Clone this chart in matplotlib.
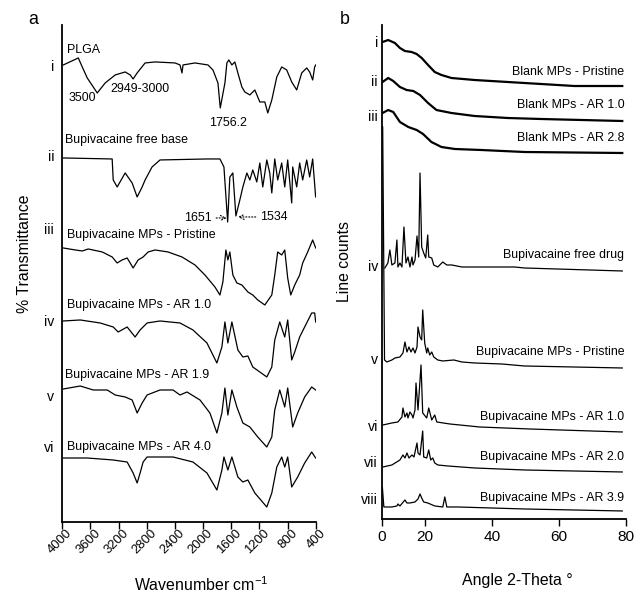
import numpy as np
import matplotlib
matplotlib.use("Agg")
import matplotlib.pyplot as plt
from matplotlib import font_manager
from matplotlib.transforms import ScaledTranslation

# ---------------- data: FTIR (panel a) ----------------
# wavenumber (cm-1) and transmittance change (a.u.) relative to each trace's baseline
plga_wn = [3986, 3773, 3717, 3646, 3504, 3391, 3249, 3107, 3036, 2994, 2937, 2824, 2682, 2399, 2328, 2300,
           2285, 2115, 1931, 1860, 1789, 1756, 1690, 1662, 1634, 1591, 1549, 1506, 1449, 1407, 1336, 1265,
           1194, 1123, 1081, 1024, 953, 883, 812, 741, 670, 599, 528, 486, 443, 415, 400]
plga_t = [0, 7, -2, -13, -28, -18, -10, -7, -10, -14, -8, 2, 3, 2, 0, -8,
          0, 2, 0, -5, -18, -43, -18, 2, 5, 0, 3, -8, -22, -27, -30, -25,
          -37, -37, -48, -35, -12, -2, -5, -17, -25, -8, -3, -7, -15, -2, 0]

base_wn = [3986, 3292, 3277, 3221, 3107, 3008, 2937, 2866, 2824, 2725, 2612, 1945, 1761, 1704, 1651,
           1620, 1577, 1534, 1478, 1435, 1378, 1336, 1294, 1237, 1194, 1152, 1095, 1053, 1024, 982,
           940, 883, 840, 798, 741, 727, 670, 628, 585, 528, 486, 443, 401]
base_t = [0, -1, -22, -29, -15, -25, -39, -29, -22, -9, -2, -1, -1, -9, -64,
          -19, -15, -58, -42, -29, -15, -22, -12, -24, -5, -29, -2, -15, -35, -1,
          -22, -5, -29, -2, -45, -9, -29, -5, -22, -2, -19, -1, -39]

prist_wn = [3986, 3816, 3717, 3632, 3433, 3292, 3221, 3151, 3079, 2994, 2923, 2852, 2781, 2682, 2498,
            2300, 2115, 1974, 1832, 1761, 1719, 1676, 1648, 1620, 1577, 1520, 1449, 1364, 1294, 1223,
            1123, 1024, 982, 940, 883, 840, 798, 755, 698, 628, 585, 514, 443, 400]
prist_t = [0, -2, -3, -1, -4, -9, -15, -12, -10, -20, -12, -9, -4, -2, -4,
           -9, -17, -27, -39, -47, -34, -2, -12, -4, -27, -35, -37, -44, -47, -52,
           -57, -47, -27, -4, -7, -2, -30, -47, -37, -27, -15, -4, 8, 0]

ar10_wn = [3986, 3745, 3462, 3277, 3207, 3079, 2966, 2895, 2796, 2612, 2328, 2144, 1945, 1804, 1733,
           1690, 1648, 1591, 1506, 1435, 1364, 1294, 1194, 1095, 1024, 982, 911, 840, 798, 741,
           698, 628, 557, 457, 415, 400]
ar10_t = [0, 1, -2, -6, -11, -6, -16, -9, -2, 0, -2, -9, -22, -42, -26,
          -1, -22, -1, -29, -36, -35, -46, -51, -56, -46, -19, -1, -16, 1, -39,
          -31, -16, -6, 8, 8, -1]

ar19_wn = [3986, 3745, 3561, 3362, 3249, 3107, 3008, 2937, 2866, 2796, 2612, 2427, 2328, 2229, 2044,
           1903, 1804, 1733, 1690, 1648, 1591, 1520, 1435, 1336, 1223, 1095, 1024, 982, 911, 840,
           798, 727, 656, 557, 457, 401]
ar19_t = [-1, 2, -2, -2, -7, -9, -12, -25, -15, -7, -2, -2, -7, -4, -12,
          -25, -45, -25, 0, -27, -2, -19, -35, -39, -49, -59, -49, -22, -2, -19,
          0, -39, -25, -9, 1, -2]

ar40_wn = [3986, 3646, 3277, 3079, 2994, 2937, 2895, 2852, 2796, 2427, 2144, 1945, 1804, 1733, 1704,
           1648, 1591, 1506, 1435, 1364, 1265, 1095, 1024, 953, 883, 840, 798, 741, 656, 557, 457, 401]
ar40_t = [0, 0, -2, -4, -15, -25, -15, -4, 1, 1, -4, -15, -32, -12, 1,
          -12, 1, -19, -24, -22, -35, -49, -35, -9, 1, -9, 1, -29, -19, -5, 6, 0]

ftir_offsets = [457, 364, 274, 201, 134, 64]
ftir_names = ["PLGA", "Bupivacaine free base", "Bupivacaine MPs - Pristine",
              "Bupivacaine MPs - AR 1.0", "Bupivacaine MPs - AR 1.9", "Bupivacaine MPs - AR 4.0"]
ftir_roman = ["i", "ii", "iii", "iv", "v", "vi"]

# ---------------- data: XRD (panel b) ----------------
bl_prist_2t = [7.3, 9.0, 11.0, 12.5, 14.0, 16.0, 17.5, 19.0, 20.9, 22.9, 24.9, 27.9, 34.8, 44.7, 54.7, 64.6, 78.9]
bl_prist_c = [44, 46, 43, 38, 35, 34, 32, 28, 21, 14, 11, 8, 6, 4, 2, 0, 0]
bl_ar10_2t = [7.3, 9.0, 10.5, 12.5, 14.5, 16.5, 18.5, 20.9, 23.4, 27.9, 34.8, 44.7, 54.7, 78.9]
bl_ar10_c = [39, 43, 40, 34, 31, 30, 26, 18, 11, 8, 5, 3, 2, 0]
bl_ar28_2t = [7.3, 9.0, 10.5, 12.5, 15.0, 17.5, 19.4, 21.9, 24.9, 28.9, 36.8, 49.7, 78.9]
bl_ar28_c = [40, 43, 41, 31, 26, 23, 19, 11, 6, 4, 3, 1, 0]

drug_2t = [8.0, 8.9, 9.5, 10.1, 11.0, 11.6, 11.9, 12.5, 13.1, 13.7, 14.3, 14.9, 15.5, 16.1, 16.4,
           17.0, 17.6, 18.1, 18.5, 19.0, 19.6, 20.2, 20.8, 21.1, 22.0, 22.6, 23.8, 25.3, 26.5, 28.0,
           31.0, 37.8, 46.7, 49.7, 78.9]
drug_c = [3, 8, 21, 6, 8, 31, 4, 8, 4, 44, 8, 14, 4, 14, 6,
          11, 35, 14, 98, 24, 18, 13, 36, 14, 13, 6, 4, 9, 6, 6,
          4, 4, 4, 3, 0]

mp_prist_2t = [7.35, 7.9, 8.6, 10.1, 11.0, 12.5, 13.4, 14.0, 14.6, 15.2, 15.8, 16.4, 17.0, 17.6, 17.9,
               18.5, 19.0, 19.3, 19.9, 20.5, 20.8, 21.4, 22.0, 22.6, 23.8, 25.3, 28.6, 31.0, 34.8, 42.9,
               49.7, 78.9]
mp_prist_c = [241, 8, 6, 8, 10, 11, 15, 26, 16, 21, 16, 20, 15, 21, 41,
              31, 28, 58, 25, 15, 20, 13, 16, 11, 8, 7, 8, 6, 5, 4,
              2, 0]
mp_ar10_2t = [7.4, 10.1, 11.9, 13.1, 13.4, 14.0, 14.6, 14.9, 15.5, 16.1, 16.4, 17.0, 17.3, 17.9, 18.8,
              19.3, 20.5, 21.1, 22.0, 22.9, 23.5, 27.4, 36.3, 51.2, 78.9]
mp_ar10_c = [7, 9, 10, 15, 24, 15, 19, 14, 20, 17, 14, 22, 49, 22, 67,
             19, 14, 24, 12, 17, 10, 8, 5, 3, 0]
mp_ar20_2t = [7.4, 10.1, 12.5, 13.4, 14.0, 14.6, 15.2, 16.1, 16.7, 17.6, 17.9, 18.5, 19.3, 19.6, 20.5,
              21.1, 21.7, 22.3, 22.9, 23.8, 26.8, 34.8, 49.7, 78.9]
mp_ar20_c = [5, 7, 12, 17, 14, 19, 14, 17, 15, 29, 19, 17, 41, 15, 14,
             22, 12, 14, 9, 7, 6, 4, 2, 0]
mp_ar39_2t = [7.25, 7.7, 8.0, 10.1, 11.6, 11.9, 12.5, 14.0, 14.6, 15.5, 17.0, 17.9, 18.5, 19.0, 19.6,
              20.8, 22.9, 25.3, 25.9, 26.5, 29.8, 49.7, 78.9]
mp_ar39_c = [24, 4, 4, 4, 5, 7, 5, 11, 8, 8, 9, 12, 17, 13, 9,
             8, 5, 4, 14, 4, 4, 2, 0]

xrd_offsets = [433, 398, 366, 248, 151, 87, 47, 8]
xrd_names = ["Blank MPs - Pristine", "Blank MPs - AR 1.0", "Blank MPs - AR 2.8", "Bupivacaine free drug",
             "Bupivacaine MPs - Pristine", "Bupivacaine MPs - AR 1.0", "Bupivacaine MPs - AR 2.0",
             "Bupivacaine MPs - AR 3.9"]
xrd_roman = ["i", "ii", "iii", "iv", "v", "vi", "vii", "viii"]

# ---------------- fonts ----------------
installed = {f.name for f in font_manager.fontManager.ttflist}
if "Liberation Sans Narrow" in installed:
    fam = "Liberation Sans Narrow"
    k = 1.0
else:
    fam = "Liberation Sans"
    k = 0.85
plt.rcParams["font.family"] = [fam, "DejaVu Sans"]
plt.rcParams["mathtext.fontset"] = "custom"
plt.rcParams["mathtext.rm"] = fam
plt.rcParams["mathtext.default"] = "regular"

fig = plt.figure(figsize=(6.36, 5.94), dpi=100)

# ---------------- panel a ----------------
ax = fig.add_axes([0.098, 0.1212, 0.3984, 0.8368])
ftir = [(plga_wn, plga_t), (base_wn, base_t), (prist_wn, prist_t),
        (ar10_wn, ar10_t), (ar19_wn, ar19_t), (ar40_wn, ar40_t)]
for (wn, t), off in zip(ftir, ftir_offsets):
    ax.plot(wn, off + np.array(t), color="black", lw=0.9)
ax.set_xlim(4000, 400)
ax.set_ylim(0, 497)
ax.set_xticks(np.arange(4000, 399, -400))
ax.set_yticks([])
for s in ["top", "right"]:
    ax.spines[s].set_visible(False)
for s in ["left", "bottom"]:
    ax.spines[s].set_linewidth(1.3)
ax.tick_params(axis="x", direction="out", length=5, width=1.0, labelsize=11 * k, pad=2)
shift = ScaledTranslation(0.08, 0, fig.dpi_scale_trans)
for lab in ax.get_xticklabels():
    lab.set_rotation(45)
    lab.set_ha("right")
    lab.set_va("center")
    lab.set_rotation_mode("anchor")
    lab.set_transform(lab.get_transform() + shift)
ax.set_xlabel("Wavenumber cm$^{-1}$", fontsize=13.5 * k)
ax.xaxis.set_label_coords(0.55, -0.108)
ax.set_ylabel("% Transmittance", fontsize=13.5 * k)
ax.yaxis.set_label_coords(-0.12, 0.54)

fs = 10.5 * k
name_pos = [(3933, 472), (3962, 382), (3933, 287), (3933, 217), (3962, 147), (3933, 75)]
for name, (x, y) in zip(ftir_names, name_pos):
    ax.text(x, y, name, fontsize=fs, ha="left", va="center")
roman_y = [455, 365, 292, 200, 125, 74]
for r, y in zip(ftir_roman, roman_y):
    ax.text(4118, y, r, fontsize=12 * k, ha="right", va="center", clip_on=False)
ax.text(3919, 424, "3500", fontsize=fs, ha="left", va="center")
ax.text(3321, 433, "2949-3000", fontsize=fs, ha="left", va="center")
ax.text(1653, 399, "1756.2", fontsize=fs, ha="center", va="center")
arrow = dict(arrowstyle="->", linestyle=":", lw=0.8, color="black", shrinkA=1, shrinkB=0)
ax.annotate("1651", xy=(1665, 304), xytext=(1873, 304), fontsize=fs, ha="right", va="center",
            arrowprops=arrow)
ax.annotate("1534", xy=(1505, 305), xytext=(1193, 305), fontsize=fs, ha="left", va="center",
            arrowprops=arrow)

# ---------------- panel b ----------------
bx = fig.add_axes([0.6006, 0.1263, 0.3836, 0.8316])
xrd = [(bl_prist_2t, bl_prist_c, 1.6), (bl_ar10_2t, bl_ar10_c, 1.6), (bl_ar28_2t, bl_ar28_c, 1.6),
       (drug_2t, drug_c, 0.9), (mp_prist_2t, mp_prist_c, 0.9), (mp_ar10_2t, mp_ar10_c, 0.9),
       (mp_ar20_2t, mp_ar20_c, 0.9), (mp_ar39_2t, mp_ar39_c, 0.9)]
for (tt, c, lw), off in zip(xrd, xrd_offsets):
    bx.plot(tt, off + np.array(c), color="black", lw=lw)
bx.set_xlim(7.14, 80)
bx.set_ylim(0, 494)
# scan starts near 7 deg; the reference labels the axis origin "0"
bx.set_xticks([7.14, 20, 40, 60, 80])
bx.set_xticklabels(["0", "20", "40", "60", "80"])
bx.set_yticks([])
for s in ["top", "right"]:
    bx.spines[s].set_visible(False)
for s in ["left", "bottom"]:
    bx.spines[s].set_linewidth(1.3)
bx.tick_params(axis="x", direction="out", length=5, width=1.0, labelsize=13 * k, pad=3)
bx.set_xlabel("Angle 2-Theta °", fontsize=13.5 * k)
bx.xaxis.set_label_coords(0.553, -0.109)
bx.set_ylabel("Line counts", fontsize=13.5 * k)
bx.yaxis.set_label_coords(-0.122, 0.522)

xrd_label_y = [447, 414, 381, 264, 167, 102, 62, 21]
for name, y in zip(xrd_names, xrd_label_y):
    bx.text(79.5, y, name, fontsize=fs, ha="right", va="center")
xrd_roman_y = [476, 437, 402, 252, 159, 92, 56, 19]
for r, y in zip(xrd_roman, xrd_roman_y):
    bx.text(5.95, y, r, fontsize=12 * k, ha="right", va="center", clip_on=False)

fig.text(33 / 636, 1 - 20 / 594, "a", fontsize=15 * k, ha="center", va="center")
fig.text(345 / 636, 1 - 20 / 594, "b", fontsize=15 * k, ha="center", va="center")

fig.savefig("out.png", dpi=100)
